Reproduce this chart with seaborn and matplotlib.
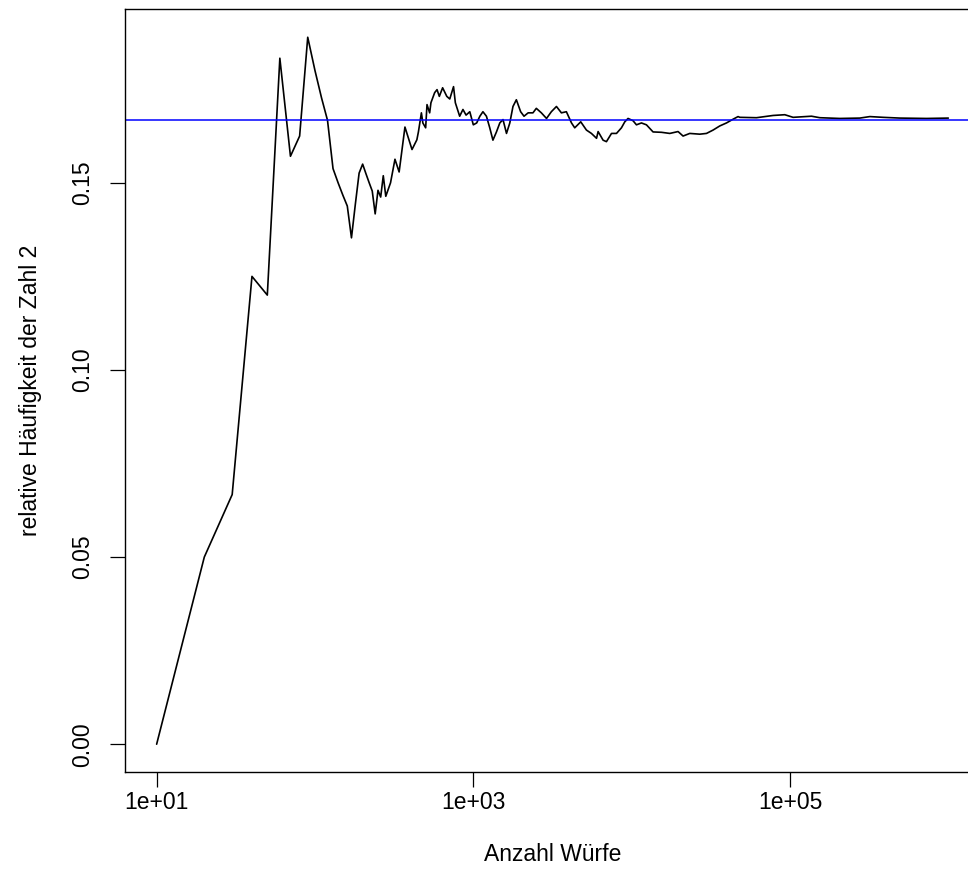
"""
Relative Häufigkeit der Zahl 2 beim Würfeln, logarithmische x-Achse.
"""

import pandas as pd
import matplotlib
matplotlib.use("Agg")
import matplotlib.pyplot as plt
import seaborn as sns

sns.set_style("ticks")
plt.rcParams["font.family"] = ["Liberation Sans", "DejaVu Sans"]

# Werte (Anzahl Würfe, relative Häufigkeit)
n_rolls = [10, 20, 30, 40, 50, 60, 70, 80, 90, 100,
           110, 120, 130, 140, 150, 160, 170, 180, 190, 200,
           210, 220, 230, 240, 250, 260, 270, 280, 300, 320,
           340, 370, 410, 440, 450, 470, 480, 500, 510, 530,
           540, 570, 590, 610, 640, 680, 710, 750, 770, 820,
           860, 900, 950, 1000, 1050, 1100, 1150, 1210, 1270, 1330,
           1400, 1470, 1540, 1620, 1700, 1780, 1870, 1990, 2090, 2220,
           2380, 2500, 2690, 2900, 3110, 3350, 3600, 3870, 4170, 4370,
           4770, 5180, 5570, 6000, 6140, 6600, 6930, 7460, 8020, 8620,
           9050, 9490, 10200, 10720, 11530, 12400, 13650, 15430, 17410, 19640,
           21120, 23280, 26930, 29690, 32680, 36020, 39700, 43700, 47000, 48190,
           61430, 78200, 92710, 104600, 136700, 154300, 206300, 276100, 319300, 387300,
           494000, 728300, 1000000]
rel_freq = [0.0, 0.05, 0.0667, 0.125, 0.12, 0.1833, 0.1571, 0.1625, 0.1889, 0.18,
            0.1727, 0.1667, 0.1538, 0.15, 0.1467, 0.1438, 0.1353, 0.1444, 0.1526, 0.155,
            0.1524, 0.15, 0.1478, 0.1417, 0.148, 0.1462, 0.1519, 0.1464, 0.1500, 0.1563,
            0.1529, 0.1649, 0.1589, 0.1615, 0.1636, 0.1687, 0.1660, 0.1647, 0.1709, 0.1687,
            0.1714, 0.1741, 0.1749, 0.1731, 0.1754, 0.1731, 0.1724, 0.1757, 0.1714, 0.1678,
            0.1696, 0.1681, 0.1690, 0.1655, 0.1660, 0.1678, 0.1690, 0.1678, 0.1647, 0.1614,
            0.1636, 0.1660, 0.1669, 0.1632, 0.1660, 0.1704, 0.1722, 0.1690, 0.1678, 0.1687,
            0.1687, 0.1699, 0.1687, 0.1672, 0.1690, 0.1704, 0.1687, 0.1690, 0.1660, 0.1647,
            0.1663, 0.1641, 0.1632, 0.1619, 0.1637, 0.1614, 0.1610, 0.1632, 0.1632, 0.1647,
            0.1663, 0.1672, 0.1666, 0.1655, 0.1660, 0.1655, 0.1636, 0.1635, 0.1632, 0.1637,
            0.1625, 0.1632, 0.1630, 0.1632, 0.1641, 0.1652, 0.1660, 0.1670, 0.1677, 0.1675,
            0.1674, 0.1680, 0.1682, 0.1675, 0.1678, 0.1674, 0.1672, 0.1673, 0.1677, 0.1675,
            0.1673, 0.1672, 0.1673]
expected = 1 / 6

x_ticks = [10, 1000, 100000]
x_tick_labels = ["1e+01", "1e+03", "1e+05"]
y_ticks = [0.00, 0.05, 0.10, 0.15]
y_tick_labels = ["0.00", "0.05", "0.10", "0.15"]

df = pd.DataFrame({"Wuerfe": n_rolls, "Haeufigkeit": rel_freq})

fig = plt.figure(figsize = (9.68, 8.88), dpi = 100)
ax = fig.add_axes([0.1291, 0.1301, 0.8833, 0.8598])

sns.lineplot(data = df, x = "Wuerfe", y = "Haeufigkeit", estimator = None,
             sort = False, color = "black", linewidth = 1.2, ax = ax)
ax.axhline(expected, color = "blue", linewidth = 1.1)

ax.set_xscale("log")
ax.set_xlim(10 ** 0.8, 10 ** 6.2)
ymax = max(rel_freq)
ax.set_ylim(-0.04 * ymax, 1.04 * ymax)

ax.set_xticks(x_ticks)
ax.set_xticklabels(x_tick_labels)
ax.minorticks_off()
ax.set_yticks(y_ticks)
ax.set_yticklabels(y_tick_labels, rotation = 90, va = "center")

ax.tick_params(axis = "both", direction = "out", length = 10.5, width = 0.9,
               color = "black", labelsize = 16.5, labelcolor = "black")
ax.tick_params(axis = "x", pad = 3)
ax.tick_params(axis = "y", pad = 11.4)

for side in ["left", "bottom", "top", "right"]:
    ax.spines[side].set_color("black")
    ax.spines[side].set_linewidth(1.0)

ax.set_xlabel("Anzahl Würfe", fontsize = 16.5, labelpad = 21, color = "black")
ax.set_ylabel("relative Häufigkeit der Zahl 2", fontsize = 16.5, labelpad = 21, color = "black")

fig.savefig("out.png", dpi = 100)
